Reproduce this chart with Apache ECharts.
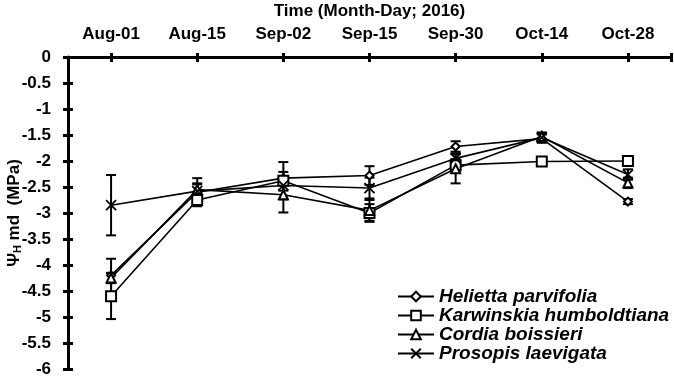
<!DOCTYPE html>
<html>
<head>
<meta charset="utf-8">
<script src="https://cdn.jsdelivr.net/npm/echarts@6/dist/echarts.min.js"></script>
<style>
  html, body { margin: 0; padding: 0; background: #fff; }
  #main { width: 674px; height: 376px; }
</style>
</head>
<body>
<div id="main"></div>
<script>
    var cats = ['Aug-01', 'Aug-15', 'Sep-02', 'Sep-15', 'Sep-30', 'Oct-14', 'Oct-28'];

    var helietta   = [-4.20, -2.60, -2.33, -2.28, -1.72, -1.57, -2.78];
    var karwinskia = [-4.60, -2.75, -2.38, -3.00, -2.08, -2.01, -2.00];
    var cordia     = [-4.25, -2.55, -2.65, -2.95, -2.15, -1.53, -2.42];
    var prosopis   = [-2.85, -2.58, -2.47, -2.52, -1.95, -1.55, -2.26];

    var heliettaErr   = [0.32, 0.17, 0.12, 0.18, 0.10, 0.08, 0.05];
    var karwinskiaErr = [0.44, 0.12, 0.36, 0.17, 0.12, 0.05, 0.05];
    var cordiaErr     = [0.10, 0.10, 0.34, 0.20, 0.28, 0.08, 0.10];
    var prosopisErr   = [0.58, 0.25, 0.10, 0.20, 0.10, 0.08, 0.10];

    var names = ['Helietta parvifolia', 'Karwinskia humboldtiana', 'Cordia boissieri', 'Prosopis laevigata'];

    var labelFont = 'Liberation Sans, Arial, sans-serif';

    function points(vals) {
        return vals.map(function (v, i) { return [i, v]; });
    }
    function bars(vals, errs) {
        return vals.map(function (v, i) { return [i, v - errs[i], v + errs[i]]; });
    }

    function renderErr(params, api) {
        var x = api.value(0);
        var top = api.coord([x, api.value(2)]);
        var bot = api.coord([x, api.value(1)]);
        var w = 5;
        var st = { stroke: '#000', lineWidth: 2 };
        return {
            type: 'group',
            children: [
                { type: 'line', shape: { x1: top[0], y1: top[1], x2: bot[0], y2: bot[1] }, style: st },
                { type: 'line', shape: { x1: top[0] - w, y1: top[1], x2: top[0] + w, y2: top[1] }, style: st },
                { type: 'line', shape: { x1: bot[0] - w, y1: bot[1], x2: bot[0] + w, y2: bot[1] }, style: st }
            ]
        };
    }

    function errSeries(vals, errs) {
        return {
            type: 'custom',
            renderItem: renderErr,
            encode: { x: 0, y: [1, 2] },
            data: bars(vals, errs),
            z: 1,
            silent: true
        };
    }

    function lineSeries(name, vals, symbol, size) {
        return {
            name: name,
            type: 'line',
            data: points(vals),
            symbol: symbol,
            symbolSize: size,
            showAllSymbol: true,
            lineStyle: { color: '#000', width: 1.6 },
            itemStyle: { color: '#000', borderColor: '#000', borderWidth: 1.8 },
            z: 3
        };
    }

    var tickIdx = cats.map(function (c, i) { return i; });

    var myChart = echarts.init(document.getElementById('main'));
    var option = {
        backgroundColor: '#fff',
        animation: false,
        grid: { left: 68, right: 3, top: 57, bottom: 7, outerBoundsMode: 'none' },
        legend: {
            data: names,
            orient: 'vertical',
            left: 392,
            top: 282,
            itemWidth: 36,
            itemHeight: 12,
            itemGap: 0,
            textStyle: {
                color: '#000',
                fontFamily: labelFont,
                fontStyle: 'italic',
                fontWeight: 'bold',
                fontSize: 19,
                lineHeight: 18.7
            }
        },
        xAxis: [{
            type: 'value',
            position: 'top',
            min: -0.5,
            max: 6.5,
            name: 'Time (Month-Day; 2016)',
            nameLocation: 'middle',
            nameGap: 37,
            nameMoveOverlap: false,
            nameTextStyle: { color: '#000', fontFamily: labelFont, fontWeight: 'bold', fontSize: 17 },
            axisLine: { onZero: false, lineStyle: { color: '#000', width: 3 } },
            axisTick: { show: true, length: 4, customValues: tickIdx.concat([6.5]), lineStyle: { color: '#000', width: 3 } },
            axisLabel: {
                customValues: tickIdx,
                margin: 14,
                color: '#000',
                fontFamily: labelFont,
                fontWeight: 'bold',
                fontSize: 17,
                formatter: function (v) { return cats[Math.round(v)]; }
            },
            splitLine: { show: false }
        }, {
            type: 'value',
            position: 'top',
            min: -0.5,
            max: 6.5,
            axisLine: { show: false, onZero: false },
            axisTick: { show: true, inside: true, length: 5, customValues: tickIdx.concat([6.5]), lineStyle: { color: '#000', width: 3 } },
            axisLabel: { show: false },
            splitLine: { show: false }
        }],
        yAxis: [{
            type: 'value',
            min: -6,
            max: 0,
            interval: 0.5,
            name: '{a|Ψ}{s|H}{a| md  (MPa)}',
            nameLocation: 'middle',
            nameGap: 45,
            nameRotate: 90,
            nameMoveOverlap: false,
            nameTextStyle: {
                rich: {
                    a: { color: '#000', fontFamily: labelFont, fontWeight: 'bold', fontSize: 17 },
                    s: { color: '#000', fontFamily: labelFont, fontWeight: 'bold', fontSize: 11, verticalAlign: 'bottom', padding: [7, 0, 0, 0] }
                }
            },
            axisLine: { onZero: false, lineStyle: { color: '#000', width: 3 } },
            axisTick: { show: true, length: 5, lineStyle: { color: '#000', width: 3 } },
            axisLabel: { margin: 17, color: '#000', fontFamily: labelFont, fontWeight: 'bold', fontSize: 17 },
            splitLine: { show: false }
        }, {
            type: 'value',
            position: 'left',
            min: -6,
            max: 0,
            interval: 0.5,
            axisLine: { show: false, onZero: false },
            axisTick: { show: true, inside: true, length: 5, lineStyle: { color: '#000', width: 3 } },
            axisLabel: { show: false },
            splitLine: { show: false }
        }],
        series: [
            errSeries(helietta, heliettaErr),
            errSeries(karwinskia, karwinskiaErr),
            errSeries(cordia, cordiaErr),
            errSeries(prosopis, prosopisErr),
            lineSeries(names[0], helietta, 'emptyDiamond', 8),
            lineSeries(names[1], karwinskia, 'emptyRect', 10),
            lineSeries(names[2], cordia, 'emptyTriangle', 9),
            lineSeries(names[3], prosopis, 'path://M0,0L10,10M0,10L10,0', 10)
        ]
    };
    myChart.setOption(option);

    window.addEventListener('resize', function () {
        myChart.resize();
    });
</script>
</body>
</html>
